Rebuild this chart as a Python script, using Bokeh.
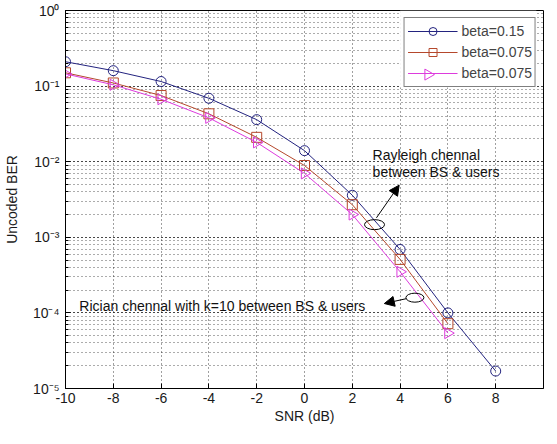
import math
from bokeh.plotting import figure
from bokeh.models import (FixedTicker, CustomJSTickFormatter, Arrow, NormalHead, Legend,
                          LegendItem, BoxAnnotation)
from bokeh.core.properties import value
from bokeh.embed import file_html
from bokeh.resources import INLINE

# ---- data ----
snr_015 = [-10, -8, -6, -4, -2, 0, 2, 4, 6, 8]
ber_015 = [0.21, 0.16, 0.115, 0.069, 0.036, 0.014, 0.0036, 0.00069, 0.0001, 0.000017]
snr_075 = [-10, -8, -6, -4, -2, 0, 2, 4, 6]
ber_075_a = [0.15, 0.11, 0.075, 0.043, 0.021, 0.0089, 0.0027, 0.00051, 0.000072]
ber_075_b = [0.145, 0.104, 0.067, 0.038, 0.018, 0.0070, 0.0020, 0.00035, 0.000054]
series_labels = ["beta=0.15", "beta=0.075", "beta=0.075"]
x_ticks = [-10, -8, -6, -4, -2, 0, 2, 4, 6, 8]

# annotations (data coordinates)
ray_text = ["Rayleigh chennal", "between BS & users"]
ray_text_x = [2.85, 2.85]
ray_text_y = [0.0124, 0.00723]
ray_ell = (2.93, 0.00147)
ray_arrow = (3.01, 0.00181, 3.96, 0.00489)
ric_text = ["Rician chennal with k=10 between BS & users"]
ric_text_x = [-9.42]
ric_text_y = [1.25e-4]
ric_ell = (4.62, 1.59e-4)
ric_arrow = (4.25, 1.54e-4, 3.34, 1.33e-4)
# legend backing box and right-pointing triangle swatch (legend draws markers unrotated)
legend_box = (4.0, 9.7, 1.0, 0.096)   # left, right, top, bottom
legend_tri = (5.17, 0.142)

FONT = "Liberation Sans"
C_BLUE = "#23237f"
C_RED = "#b5482c"
C_MAG = "#dd3bdd"

p = figure(output_backend="svg", toolbar_location=None,
           y_axis_type="log", x_range=(-10, 10), y_range=(1e-5, 1),
           frame_width=478, frame_height=378,
           min_border_left=60, min_border_right=3, min_border_top=10, min_border_bottom=40,
           background_fill_color="white", border_fill_color="white")
p.outline_line_color = "black"
p.outline_line_width = 1

# grids
for g in (p.xgrid, p.ygrid):
    g.grid_line_color = "black"
    g.grid_line_dash = "1 3"
    g.grid_line_alpha = 0.75
p.ygrid.minor_grid_line_color = "black"
p.ygrid.minor_grid_line_dash = "1 3"
p.ygrid.minor_grid_line_alpha = 0.65

sup_code = """
const sup = {'-':'\u207b','0':'\u2070','1':'\u00b9','2':'\u00b2','3':'\u00b3','4':'\u2074','5':'\u2075','6':'\u2076','7':'\u2077','8':'\u2078','9':'\u2079'};
const e = Math.round(Math.log10(tick));
return '10' + String(e).split('').map(c => sup[c]).join('');
"""

xa = p.xaxis[0]
xa.ticker = FixedTicker(ticks=x_ticks)
xa.formatter = CustomJSTickFormatter(code="return String(tick);")
xa.axis_label = "SNR (dB)"
ya = p.yaxis[0]
ya.formatter = CustomJSTickFormatter(code=sup_code)
ya.axis_label = "Uncoded BER"
for ax in (xa, ya):
    ax.major_tick_in = 5
    ax.major_tick_out = 0
    ax.minor_tick_in = 3
    ax.minor_tick_out = 0
    ax.axis_line_color = "black"
    ax.major_label_text_font = FONT
    ax.major_label_text_font_size = "14px"
    ax.major_label_text_color = "#1a1a1a"
    ax.axis_label_text_font = FONT
    ax.axis_label_text_font_size = "14px"
    ax.axis_label_text_font_style = "normal"
    ax.axis_label_text_color = "#1a1a1a"
xa.major_label_standoff = 4
xa.axis_label_standoff = 2
ya.major_label_standoff = 6
ya.axis_label_standoff = 10

# white backing behind the (transparent) legend
p.add_layout(BoxAnnotation(left=legend_box[0], right=legend_box[1], top=legend_box[2],
                           bottom=legend_box[3], fill_color="white", fill_alpha=1.0,
                           line_alpha=0, level="underlay"))

# series
r1l = p.line(snr_015, ber_015, line_color=C_BLUE, line_width=1)
r1m = p.scatter(snr_015, ber_015, marker="circle", size=10, fill_color=None,
                line_color=C_BLUE, line_width=1)
r2l = p.line(snr_075, ber_075_a, line_color=C_RED, line_width=1)
r2m = p.scatter(snr_075, ber_075_a, marker="square", size=10, fill_color=None,
                line_color=C_RED, line_width=1)
r3l = p.line(snr_075, ber_075_b, line_color=C_MAG, line_width=1)
r3m = p.scatter(snr_075, ber_075_b, marker="triangle", size=11, angle=-math.pi / 2,
                fill_color=None, line_color=C_MAG, line_width=1)

p.scatter([legend_tri[0]], [legend_tri[1]], marker="triangle", size=11, angle=-math.pi / 2,
          fill_color="white", line_color=C_MAG, line_width=1)

legend = Legend(items=[LegendItem(label=series_labels[0], renderers=[r1l, r1m]),
                       LegendItem(label=series_labels[1], renderers=[r2l, r2m]),
                       LegendItem(label=series_labels[2], renderers=[r3l])],
                location="top_right", margin=7, padding=3, spacing=1,
                glyph_width=50, glyph_height=20, label_height=20, label_standoff=4,
                label_text_font=FONT, label_text_font_size="14px",
                border_line_color="black", border_line_width=1,
                background_fill_alpha=0.0)
p.add_layout(legend, "center")

# annotations
p.text(ray_text_x, ray_text_y, text=ray_text, text_font=value(FONT), text_font_size="14px",
       text_align="left", text_baseline="middle", text_color="#111111")
p.text(ric_text_x, ric_text_y, text=ric_text, text_font=value(FONT), text_font_size="14px",
       text_align="left", text_baseline="middle", text_color="#111111")
p.ellipse(x=[ray_ell[0]], y=[ray_ell[1]], width=20, height=10, width_units="screen",
          height_units="screen", fill_color=None, line_color="black", line_width=1)
p.ellipse(x=[ric_ell[0]], y=[ric_ell[1]], width=18, height=9, width_units="screen",
          height_units="screen", fill_color=None, line_color="black", line_width=1)
for a in (ray_arrow, ric_arrow):
    p.add_layout(Arrow(end=NormalHead(size=10, fill_color="black", line_color="black"),
                       x_start=a[0], y_start=a[1], x_end=a[2], y_end=a[3],
                       line_color="black", line_width=1))

open("out.html", "w").write(file_html(p, INLINE))
